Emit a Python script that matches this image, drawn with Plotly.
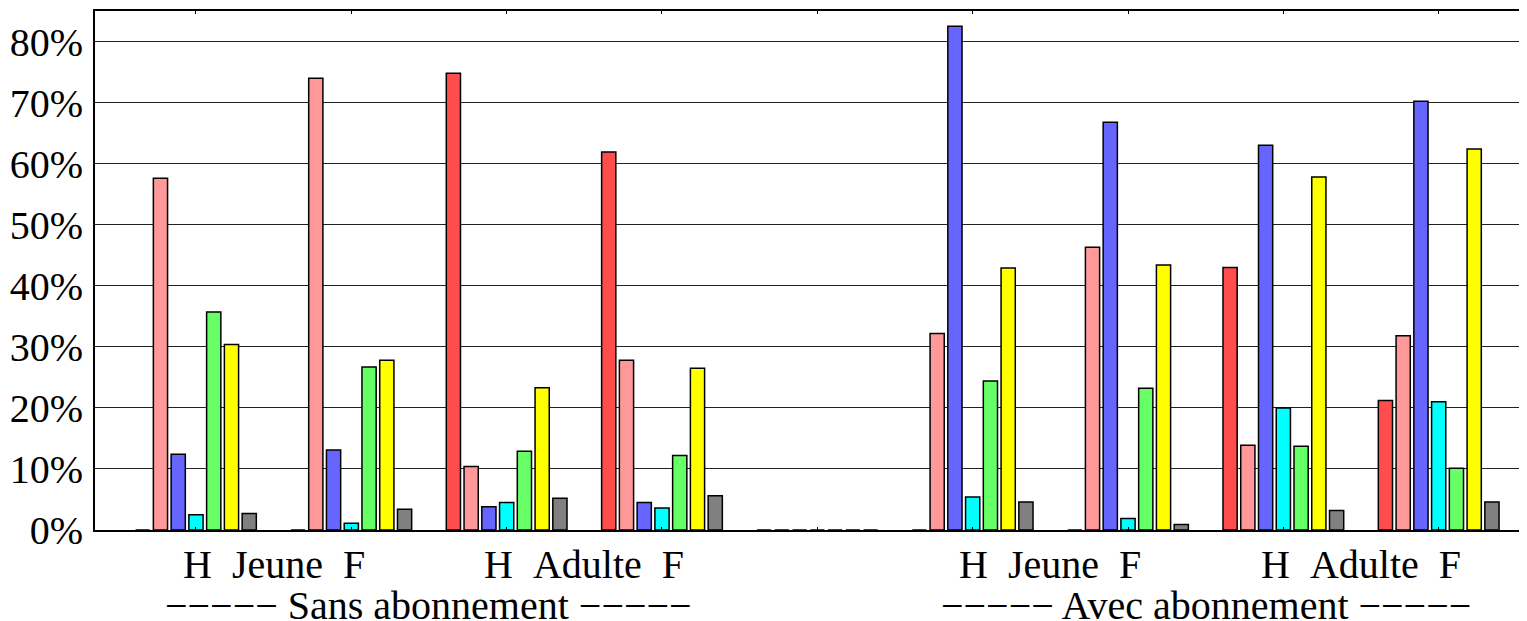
import plotly.graph_objects as go

# Groups: index 0-3 "Sans abonnement", 4 empty spacer, 5-8 "Avec abonnement"
groups = ["Sans-Jeune-H", "Sans-Jeune-F", "Sans-Adulte-H", "Sans-Adulte-F", "",
          "Avec-Jeune-H", "Avec-Jeune-F", "Avec-Adulte-H", "Avec-Adulte-F"]

s_red    = [0.0, 0.0, 74.8, 61.9, 0, 0.0, 0.0, 43.0, 21.2]
s_pink   = [57.6, 74.0, 10.4, 27.8, 0, 32.2, 46.3, 13.9, 31.8]
s_blue   = [12.4, 13.1, 3.8, 4.5, 0, 82.5, 66.8, 63.0, 70.2]
s_cyan   = [2.5, 1.1, 4.5, 3.6, 0, 5.4, 1.9, 20.0, 21.0]
s_green  = [35.7, 26.7, 12.9, 12.2, 0, 24.4, 23.2, 13.7, 10.1]
s_yellow = [30.4, 27.8, 23.3, 26.5, 0, 42.9, 43.4, 57.8, 62.4]
s_gray   = [2.7, 3.4, 5.2, 5.6, 0, 4.6, 0.9, 3.2, 4.6]

series = [s_red, s_pink, s_blue, s_cyan, s_green, s_yellow, s_gray]
colors = ["#FF4D4D", "#FF9999", "#6666FF", "#00FFFF", "#66FF66", "#FFFF00", "#808080"]

ytick_vals = [0, 10, 20, 30, 40, 50, 60, 70, 80]
ytick_text = ["0%", "10%", "20%", "30%", "40%", "50%", "60%", "70%", "80%"]

pair_labels = ["H\u00a0\u00a0Jeune\u00a0\u00a0F", "H\u00a0\u00a0Adulte\u00a0\u00a0F",
               "H\u00a0\u00a0Jeune\u00a0\u00a0F", "H\u00a0\u00a0Adulte\u00a0\u00a0F"]
pair_pos = [0.5, 2.5, 5.5, 7.5]
block_labels = ["\u2212\u2212\u2212\u2212\u2212 Sans abonnement \u2212\u2212\u2212\u2212\u2212",
                "\u2212\u2212\u2212\u2212\u2212 Avec abonnement \u2212\u2212\u2212\u2212\u2212"]
block_pos = [1.5, 6.5]

xs = list(range(len(groups)))
FONT = "Liberation Serif, Times New Roman, serif"

fig = go.Figure()
for vals, col in zip(series, colors):
    fig.add_trace(go.Bar(x=xs, y=vals, marker=dict(color=col, line=dict(color="black", width=1.5)),
                         showlegend=False, hoverinfo="y"))

annotations = []
for lab, p in zip(pair_labels, pair_pos):
    annotations.append(dict(text=lab, x=p, y=-0.067, xref="x", yref="paper",
                            xanchor="center", yanchor="middle", showarrow=False,
                            font=dict(family=FONT, size=40, color="black")))
for lab, p in zip(block_labels, block_pos):
    annotations.append(dict(text=lab, x=p, y=-0.145, xref="x", yref="paper",
                            xanchor="center", yanchor="middle", showarrow=False,
                            font=dict(family=FONT, size=40, color="black")))

# Page body has an 8px default margin, so the figure margins compensate for it.
fig.update_layout(
    width=1527, height=621,
    margin=dict(l=87, r=0, t=3, b=99),
    paper_bgcolor="white", plot_bgcolor="white",
    barmode="group", bargap=0.2, bargroupgap=0.2,
    font=dict(family=FONT, color="black"),
    annotations=annotations,
    xaxis=dict(range=[-0.65, 8.62], showgrid=False, zeroline=False,
               showline=True, linecolor="black", linewidth=2, mirror="allticks",
               ticks="inside", ticklen=3, tickcolor="black", tickvals=xs,
               showticklabels=False),
    yaxis=dict(range=[0, 85], tickvals=ytick_vals, ticktext=ytick_text,
               showgrid=True, gridcolor="#222222", gridwidth=1,
               zeroline=False, showline=True, linecolor="black", linewidth=2,
               ticks="", ticklabelstandoff=2,
               tickfont=dict(family=FONT, size=40, color="black")),
)

fig.write_html("out.html")
